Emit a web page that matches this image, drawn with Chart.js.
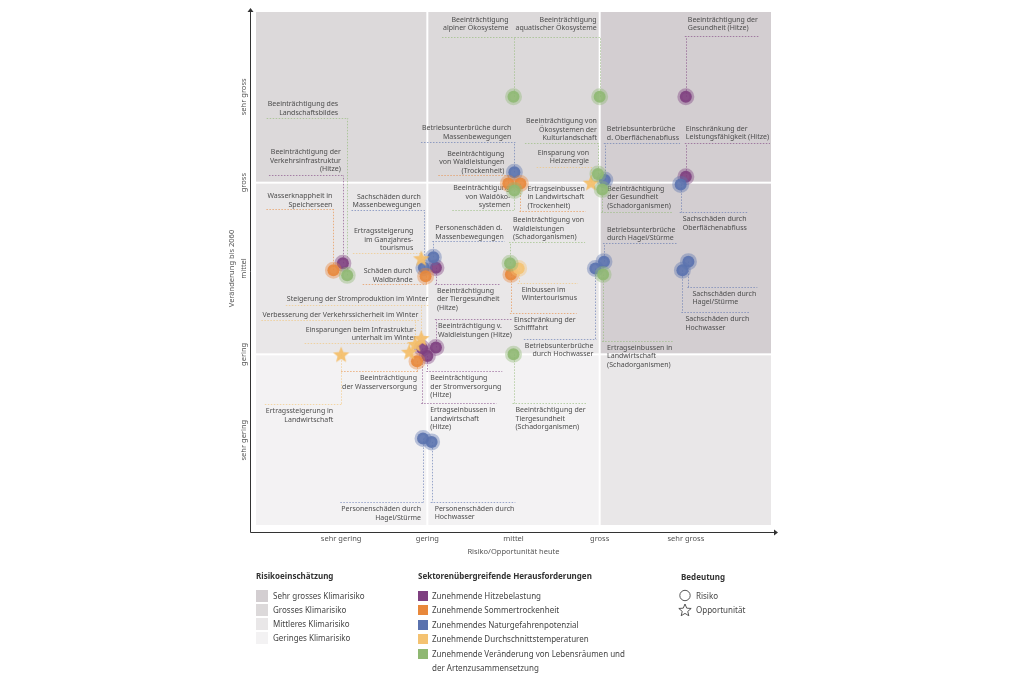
<!DOCTYPE html>
<html lang="de">
<head>
<meta charset="utf-8">
<script src="https://cdn.jsdelivr.net/npm/chart.js@4.4.1/dist/chart.umd.min.js"></script>
<style>
  body { margin: 0; background: #fff; font-family: 'Noto Sans', sans-serif; }
  #wrap { position: relative; width: 1024px; height: 684px; overflow: hidden; }
  #chart { position: absolute; left: 0; top: 0; }
  .lg { position: absolute; font-size: 8px; line-height: 12px; color: #444; white-space: nowrap; }
  .lg.h { font-weight: bold; color: #333; }
  .sw { position: absolute; }
</style>
</head>
<body>
<div id="wrap">
  <canvas id="chart" width="1024" height="684"></canvas>
  <div id="legend"></div>
</div>
<script>
const xTicks = ['sehr gering', 'gering', 'mittel', 'gross', 'sehr gross'];
const yTicks = ['sehr gering', 'gering', 'mittel', 'gross', 'sehr gross'];
const xTitle = 'Risiko/Opportunität heute';
const yTitle = 'Veränderung bis 2060';

const zoneLevels = ['Sehr grosses Klimarisiko', 'Grosses Klimarisiko', 'Mittleres Klimarisiko', 'Geringes Klimarisiko'];
const zoneColors = ['#d3ced1', '#dcd9da', '#e9e7e8', '#f3f2f3'];
const zoneCols = [0, 2, 4, 6];
const zoneRows = [6, 4, 2, 0];
// rows top to bottom, cols left to right -> index into zoneLevels
const zoneGrid = [[1, 1, 0], [2, 2, 0], [3, 3, 2]];

const categories = ['Zunehmende Hitzebelastung', 'Zunehmende Sommertrockenheit', 'Zunehmendes Naturgefahrenpotenzial',
  'Zunehmende Durchschnittstemperaturen', 'Zunehmende Veränderung von Lebensräumen und der Artenzusammensetzung'];
const catColors = ['#7e3f80', '#e8883b', '#5a72ae', '#f4c271', '#8fb872'];
const meanings = ['Risiko', 'Opportunität'];

// Zunehmende Hitzebelastung
const hitzeNames = [
  'Beeinträchtigung der\nGesundheit (Hitze)',
  'Einschränkung der\nLeistungsfähigkeit (Hitze)',
  'Beeinträchtigung der\nVerkehrsinfrastruktur\n(Hitze)',
  'Beeinträchtigung\nder Tiergesundheit\n(Hitze)',
  'Beeinträchtigung v.\nWaldleistungen (Hitze)',
  'Beeinträchtigung\nder Stromversorgung\n(Hitze)',
  'Ertragseinbussen in\nLandwirtschaft\n(Hitze)'
];
const hitzeX = [5.0, 5.0, 1.02, 2.1, 2.1, 2.0, 1.94];
const hitzeY = [5.0, 4.07, 3.06, 3.01, 2.08, 1.98, 2.07];

// Zunehmende Sommertrockenheit
const trockenNames = [
  'Beeinträchtigung\nvon Waldleistungen\n(Trockenheit)',
  'Ertragseinbussen\nin Landwirtschaft\n(Trockenheit)',
  'Wasserknappheit in\nSpeicherseen',
  'Schäden durch\nWaldbrände',
  'Einschränkung der\nSchifffahrt',
  'Beeinträchtigung\nder Wasserversorgung'
];
const trockenX = [2.94, 3.08, 0.91, 1.98, 2.97, 1.88];
const trockenY = [3.99, 3.99, 2.98, 2.91, 2.93, 1.92];

// Zunehmendes Naturgefahrenpotenzial
const naturNames = [
  'Betriebsunterbrüche durch\nMassenbewegungen',
  'Betriebsunterbrüche\nd. Oberflächenabfluss',
  'Sachschäden durch\nOberflächenabfluss',
  'Sachschäden durch\nMassenbewegungen',
  'Personenschäden d.\nMassenbewegungen',
  'Betriebsunterbrüche\ndurch Hagel/Stürme',
  'Betriebsunterbrüche\ndurch Hochwasser',
  'Sachschäden durch\nHagel/Stürme',
  'Sachschäden durch\nHochwasser',
  'Personenschäden durch\nHagel/Stürme',
  'Personenschäden durch\nHochwasser'
];
const naturX = [3.01, 4.06, 4.94, 1.96, 2.07, 4.05, 3.95, 5.03, 4.96, 1.95, 2.05];
const naturY = [4.12, 4.03, 3.98, 3.01, 3.13, 3.08, 3.0, 3.08, 2.98, 1.02, 0.98];

// Zunehmende Durchschnittstemperaturen
const tempNames = [
  'Einbussen im\nWintertourismus',
  'Einsparung von\nHeizenergie',
  'Ertragssteigerung\nim Ganzjahres-\ntourismus',
  'Steigerung der Stromproduktion im Winter',
  'Verbesserung der Verkehrssicherheit im Winter',
  'Einsparungen beim Infrastruktur-\nunterhalt im Winter',
  'Ertragssteigerung in\nLandwirtschaft'
];
const tempX = [3.06, 3.9, 1.93, 1.93, 1.86, 1.79, 1.0];
const tempY = [3.0, 4.0, 3.12, 2.19, 2.12, 2.03, 2.0];
const tempKind = ['Risiko', 'Opportunität', 'Opportunität', 'Opportunität', 'Opportunität', 'Opportunität', 'Opportunität'];

// Zunehmende Veränderung von Lebensräumen
const lebensNames = [
  'Beeinträchtigung\nalpiner Ökosysteme',
  'Beeinträchtigung\naquatischer Ökosysteme',
  'Beeinträchtigung\nvon Waldöko-\nsystemen',
  'Beeinträchtigung von\nÖkosystemen der\nKulturlandschaft',
  'Beeinträchtigung\nder Gesundheit\n(Schadorganismen)',
  'Beeinträchtigung des\nLandschaftsbildes',
  'Beeinträchtigung von\nWaldleistungen\n(Schadorganismen)',
  'Ertragseinbussen in\nLandwirtschaft\n(Schadorganismen)',
  'Beeinträchtigung der\nTiergesundheit\n(Schadorganismen)'
];
const lebensX = [3.0, 4.0, 3.01, 3.98, 4.03, 1.07, 2.96, 4.04, 3.0];
const lebensY = [5.0, 5.0, 3.91, 4.1, 3.92, 2.92, 3.06, 2.93, 2.0];

// label placement relative to the point, in px: [align, dx, first line dy, rule dy]
const hitzeLabels = [['l', 2, -77, -61], ['l', 0, -48, -34], ['r', -2, -111, -88], ['l', 1, 23, 16],
  ['l', 2, -21, -28], ['l', 3, 22, 15], ['l', 8, 62, 55]];
const trockenLabels = [['r', -4, -30, -9], ['l', 7, 5, 27], ['r', -1, -74, -61], ['r', -13, -5, 8],
  ['l', 3, 45, 38], ['r', 0, 17, 10]];
const naturLabels = [['r', -3, -44, -30], ['l', 2, -51, -37], ['l', 2, 35, 28], ['r', -3, -71, -58],
  ['l', 2, -29, -16], ['l', 3, -32, -19], ['r', -2, 77, 70], ['l', 4, 32, 25], ['l', 3, 49, 42],
  ['r', -2, 71, 64], ['l', 3, 67, 60]];
const tempLabels = [['l', 3, 21, 14], ['r', -2, -30, -16], ['r', -8, -27, -5], ['r', 7, -39, -33],
  ['r', 3, -29, -24], ['r', 7, -22, -9], ['r', -8, 57, 50]];
const lebensLabels = [['r', -5, -77, -60], ['r', -3, -77, -60], ['r', -4, -2, 20], ['r', -1, -53, -31],
  ['l', 5, -1, 22], ['r', -9, -171, -157], ['l', 3, -43, -21], ['l', 4, 73, 66], ['l', 2, 56, 49]];

const labelFont = '7px "Noto Sans"';
const lineH = 8.5;

function starPath(ctx, cx, cy, ro, ri) {
  ctx.beginPath();
  for (let i = 0; i < 10; i++) {
    const r = i % 2 ? ri : ro;
    const a = -Math.PI / 2 + i * Math.PI / 5;
    ctx.lineTo(cx + r * Math.cos(a), cy + r * Math.sin(a));
  }
  ctx.closePath();
}

const starImg = document.createElement('canvas');
starImg.width = 18; starImg.height = 18;
(function () {
  const c = starImg.getContext('2d');
  starPath(c, 9, 9.8, 8.6, 3.8);
  c.fillStyle = 'rgba(244,190,104,0.92)';
  c.fill();
})();

function halo(hex, a) {
  const n = parseInt(hex.slice(1), 16);
  return `rgba(${n >> 16},${(n >> 8) & 255},${n & 255},${a})`;
}

function makeDataset(ci, xs, ys, names, layout, kinds) {
  return {
    label: categories[ci],
    data: xs.map((v, i) => ({ x: v, y: ys[i] })),
    names: names,
    layout: layout,
    backgroundColor: halo(catColors[ci], 0.9),
    borderColor: halo(catColors[ci], 0.4),
    pointRadius: 6,
    pointHoverRadius: 6,
    pointBorderWidth: 5,
    pointStyle: ctx => (kinds && kinds[ctx.dataIndex] === 'Opportunität') ? starImg : 'circle',
    color: catColors[ci]
  };
}

const datasets = [
  makeDataset(4, lebensX, lebensY, lebensNames, lebensLabels),
  makeDataset(3, tempX, tempY, tempNames, tempLabels, tempKind),
  makeDataset(1, trockenX, trockenY, trockenNames, trockenLabels),
  makeDataset(2, naturX, naturY, naturNames, naturLabels),
  makeDataset(0, hitzeX, hitzeY, hitzeNames, hitzeLabels)
];

const backdropPlugin = {
  id: 'backdrop',
  beforeDatasetsDraw(chart) {
    const { ctx, scales: { x, y } } = chart;
    ctx.save();
    zoneGrid.forEach((row, r) => row.forEach((lvl, c) => {
      const x0 = x.getPixelForValue(zoneCols[c]) + (c > 0 ? 1 : 1);
      const x1 = x.getPixelForValue(zoneCols[c + 1]) - (c < 2 ? 1 : 1);
      const y0 = y.getPixelForValue(zoneRows[r]) + 1;
      const y1 = y.getPixelForValue(zoneRows[r + 1]) - 1;
      ctx.fillStyle = zoneColors[lvl];
      ctx.fillRect(x0, y0, x1 - x0, y1 - y0);
    }));

    // leaders and labels
    ctx.font = labelFont;
    ctx.textBaseline = 'middle';
    chart.data.datasets.forEach((ds, di) => {
      const meta = chart.getDatasetMeta(di);
      meta.data.forEach((pt, i) => {
        const [align, dx, dy, ry] = ds.layout[i];
        const lines = ds.names[i].split('\n');
        const w = Math.max(...lines.map(l => ctx.measureText(l).width));
        const ax = pt.x + dx;
        const left = align === 'l' ? ax : ax - w;
        const right = align === 'l' ? ax + w : ax;
        const yr = Math.round(pt.y + ry) + 0.5;
        ctx.strokeStyle = halo(ds.color, 0.75);
        ctx.lineWidth = 0.8;
        ctx.setLineDash([1.5, 1.5]);
        ctx.beginPath();
        ctx.moveTo(Math.round(pt.x) + 0.5, pt.y);
        ctx.lineTo(Math.round(pt.x) + 0.5, yr);
        ctx.moveTo(Math.min(left, pt.x) - 1, yr);
        ctx.lineTo(Math.max(right, pt.x) + 1, yr);
        ctx.stroke();
        ctx.setLineDash([]);
        ctx.fillStyle = '#4d4d4d';
        ctx.textAlign = align === 'l' ? 'left' : 'right';
        lines.forEach((l, k) => ctx.fillText(l, ax, pt.y + dy + k * lineH));
      });
    });
    ctx.restore();
  },
  afterDraw(chart) {
    const { ctx, scales: { x, y }, chartArea: a } = chart;
    ctx.save();
    const ax0 = a.left - 5, ay0 = a.bottom + 6;
    ctx.strokeStyle = '#333';
    ctx.fillStyle = '#333';
    ctx.lineWidth = 1;
    ctx.beginPath();
    ctx.moveTo(ax0 + 0.5, a.top);
    ctx.lineTo(ax0 + 0.5, ay0 + 0.5);
    ctx.lineTo(a.right + 2, ay0 + 0.5);
    ctx.stroke();
    ctx.beginPath();
    ctx.moveTo(a.right + 2, ay0 - 2.5); ctx.lineTo(a.right + 6, ay0 + 0.5); ctx.lineTo(a.right + 2, ay0 + 3.5);
    ctx.fill();
    ctx.beginPath();
    ctx.moveTo(ax0 - 2.5, a.top + 1); ctx.lineTo(ax0 + 0.5, a.top - 3); ctx.lineTo(ax0 + 3.5, a.top + 1);
    ctx.fill();

    ctx.fillStyle = '#555';
    ctx.font = '7.5px "Noto Sans"';
    ctx.textAlign = 'center';
    ctx.textBaseline = 'middle';
    xTicks.forEach((t, i) => ctx.fillText(t, x.getPixelForValue(i + 1), ay0 + 7));
    ctx.fillText(xTitle, (a.left + a.right) / 2, ay0 + 20);
    yTicks.forEach((t, i) => {
      ctx.save();
      ctx.translate(ax0 - 6, y.getPixelForValue(i + 1));
      ctx.rotate(-Math.PI / 2);
      ctx.fillText(t, 0, 0);
      ctx.restore();
    });
    ctx.save();
    ctx.translate(ax0 - 18, (a.top + a.bottom) / 2);
    ctx.rotate(-Math.PI / 2);
    ctx.fillText(yTitle, 0, 0);
    ctx.restore();
    ctx.restore();
  }
};

new Chart(document.getElementById('chart'), {
  type: 'scatter',
  data: { datasets },
  options: {
    responsive: false,
    animation: false,
    events: [],
    layout: { padding: { left: 255, right: 252, top: 10, bottom: 158 } },
    scales: {
      x: { type: 'linear', min: 0, max: 6, display: false },
      y: { type: 'linear', min: 0, max: 6, display: false }
    },
    plugins: { legend: { display: false }, tooltip: { enabled: false } }
  },
  plugins: [backdropPlugin]
});

// legend
const lg = document.getElementById('legend');
function addText(txt, left, cy, head) {
  const d = document.createElement('div');
  d.className = 'lg' + (head ? ' h' : '');
  d.textContent = txt;
  d.style.left = left + 'px';
  d.style.top = (cy - 6) + 'px';
  lg.appendChild(d);
}
function addBox(left, cy, size, color) {
  const d = document.createElement('div');
  d.className = 'sw';
  d.style.left = left + 'px';
  d.style.top = (cy - size / 2) + 'px';
  d.style.width = size + 'px';
  d.style.height = size + 'px';
  d.style.background = color;
  lg.appendChild(d);
}
addText('Risikoeinschätzung', 256, 576, true);
zoneLevels.forEach((z, i) => {
  addBox(256, 595.5 + i * 14.3, 12, zoneColors[i]);
  addText(z, 273, 595.5 + i * 14.3);
});
addText('Sektorenübergreifende Herausforderungen', 418, 576, true);
const catLines = ['Zunehmende Hitzebelastung', 'Zunehmende Sommertrockenheit', 'Zunehmendes Naturgefahrenpotenzial',
  'Zunehmende Durchschnittstemperaturen', 'Zunehmende Veränderung von Lebensräumen und'];
categories.forEach((c, i) => {
  addBox(418, 595.5 + i * 14.5, 10, catColors[i]);
  addText(catLines[i], 432, 595.5 + i * 14.5);
});
addText('der Artenzusammensetzung', 432, 667.5);
addText('Bedeutung', 681, 577, true);
addText(meanings[0], 696, 595.5);
addText(meanings[1], 696, 610);
const icons = document.createElement('canvas');
icons.width = 20; icons.height = 34;
icons.style.position = 'absolute';
icons.style.left = '675px';
icons.style.top = '586px';
lg.appendChild(icons);
(function () {
  const c = icons.getContext('2d');
  c.strokeStyle = '#444';
  c.lineWidth = 0.9;
  c.beginPath();
  c.arc(10, 9.5, 5.2, 0, Math.PI * 2);
  c.stroke();
  starPath(c, 10, 24.5, 6.5, 2.9);
  c.stroke();
})();
</script>
</body>
</html>
